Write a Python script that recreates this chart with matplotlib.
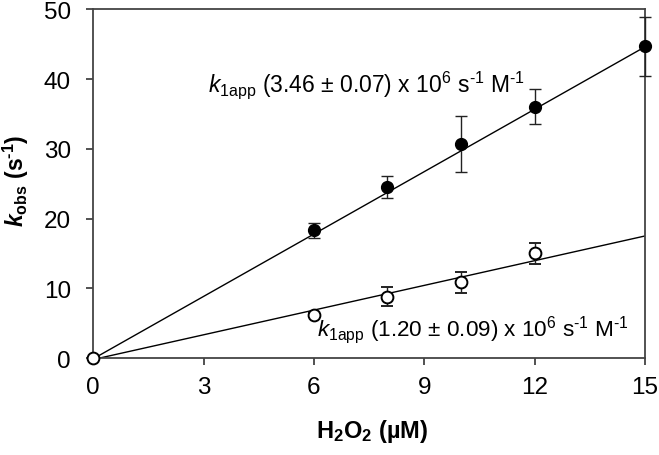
import numpy as np
import matplotlib
matplotlib.use('Agg')
from matplotlib import pyplot as plt

plt.rcParams['font.family'] = ['Liberation Sans', 'DejaVu Sans']
plt.rcParams['mathtext.fontset'] = 'custom'
plt.rcParams['mathtext.rm'] = 'Liberation Sans'
plt.rcParams['mathtext.it'] = 'Liberation Sans:italic'
plt.rcParams['mathtext.bf'] = 'Liberation Sans:bold'
plt.rcParams['mathtext.bfit'] = 'Liberation Sans:italic:bold'

# data
h2o2_filled = [6, 8, 10, 12, 15]
kobs_filled = [18.3, 24.5, 30.7, 36.05, 44.7]
err_filled = [1.05, 1.55, 4.0, 2.45, 4.25]

h2o2_open = [0, 6, 8, 10, 12]
kobs_open = [0.0, 6.2, 8.8, 10.9, 15.0]
err_open = [0.0, 0.3, 1.4, 1.5, 1.45]

fit_x = [0, 15]
fit_filled_y = [-0.1, 44.6]
fit_open_y = [-0.2, 17.5]

xticks = [0, 3, 6, 9, 12, 15]
yticks = [0, 10, 20, 30, 40, 50]

label_filled = r'$\mathit{k}_{\mathrm{1app}}$ (3.46 ± 0.07) x 10$^{6}$ s$^{\mathrm{‐1}}$ M$^{\mathrm{‐1}}$'
label_open = r'$\mathit{k}_{\mathrm{1app}}$ (1.20 ± 0.09) x 10$^{6}$ s$^{\mathrm{‐1}}$ M$^{\mathrm{‐1}}$'


def main():
    fig = plt.figure(figsize=(6.59, 4.56), dpi=100)
    ax = fig.add_axes([0.1415, 0.2125, 0.837, 0.765])

    ax.plot(fit_x, fit_filled_y, color='black', lw=1.0, zorder=2)
    ax.plot(fit_x, fit_open_y, color='black', lw=1.0, zorder=2)

    ax.errorbar(h2o2_filled, kobs_filled, yerr=err_filled, fmt='o', color='black',
                mfc='black', mec='black', ms=8.5, ecolor='#222222', elinewidth=1.0,
                capsize=4.5, capthick=1.0, clip_on=False, zorder=3)
    ax.errorbar(h2o2_open, kobs_open, yerr=err_open, fmt='o', color='black',
                mfc='white', mec='black', mew=1.4, ms=8.5, ecolor='#222222',
                elinewidth=1.0, capsize=4.5, capthick=1.0, clip_on=False, zorder=4)

    ax.text(0.3156, 0.798, label_filled, fontsize=16.5, transform=fig.transFigure,
            va='baseline')
    ax.text(0.481, 0.263, label_open, fontsize=16.2, transform=fig.transFigure,
            va='baseline')

    ax.set_xlim(0, 15)
    ax.set_ylim(0, 50)
    ax.set_xticks(xticks)
    ax.set_yticks(yticks)
    ax.tick_params(axis='both', direction='out', length=5, width=1.2, labelsize=17.5,
                   color='#333333')
    ax.tick_params(axis='x', pad=8)
    ax.tick_params(axis='y', pad=11)
    for s in ax.spines.values():
        s.set_linewidth(1.3)
        s.set_color('#444444')

    ax.set_xlabel('H$_{\\mathbf{2}}$O$_{\\mathbf{2}}$ (µM)', fontsize=17,
                  fontweight='bold')
    ax.set_ylabel(r'$\mathbfit{k}_{\mathbf{obs}}$ (s$^{\mathbf{‐1}}$)', fontsize=16.5,
                  fontweight='bold')
    ax.xaxis.set_label_coords(0.505, -0.17)
    ax.yaxis.set_label_coords(-0.112, 0.51)

    fig.savefig('out.png', dpi=100)


if __name__ == '__main__':
    main()
